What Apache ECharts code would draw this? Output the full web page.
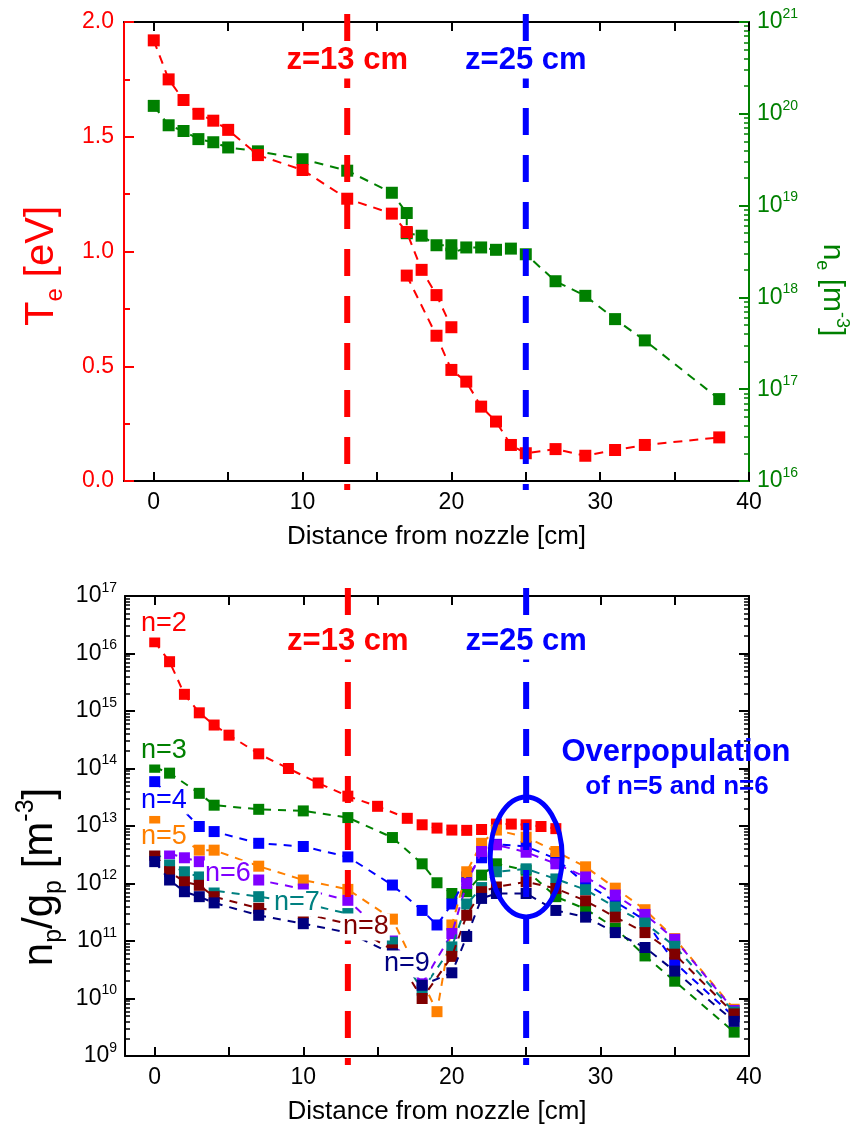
<!DOCTYPE html>
<html>
<head>
<meta charset="utf-8">
<script src="https://cdn.jsdelivr.net/npm/echarts@6/dist/echarts.min.js"></script>
<style>
html, body { margin: 0; padding: 0; background: #fff; }
#box { width: 861px; height: 1134px; }
</style>
</head>
<body>
<div id="box"></div>
<script>
// ---- top panel: Te (left axis) and ne (right axis, log) ----
var teX1 = [0, 1, 2, 3, 4, 5, 7, 10, 13, 16, 17, 18, 19, 20];
var te1 = [1.92, 1.75, 1.66, 1.60, 1.57, 1.53, 1.42, 1.355, 1.23, 1.165, 1.085, 0.92, 0.81, 0.67];
var teX2 = [17, 19, 20, 21, 22, 23, 24, 25, 27, 29, 31, 33, 38];
var te2 = [0.895, 0.633, 0.484, 0.433, 0.324, 0.259, 0.157, 0.121, 0.139, 0.110, 0.135, 0.157, 0.190];
var neX = [0, 1, 2, 3, 4, 5, 7, 10, 13, 16, 17, 17, 18, 19, 20, 20, 21, 22, 23, 24, 25, 27, 29, 31, 33, 38];
var ne = [1.22e20, 7.5e19, 6.5e19, 5.3e19, 4.9e19, 4.3e19, 3.9e19, 3.2e19, 2.4e19, 1.38e19, 8.3e18, 5.0e18, 4.7e18,
    3.7e18, 3.7e18, 3.0e18, 3.5e18, 3.5e18, 3.3e18, 3.4e18, 2.95e18, 1.5e18, 1.04e18, 5.8e17, 3.4e17, 7.8e16];

// ---- bottom panel: np/gp for n=2..9 ----
var levels = ['n=2', 'n=3', 'n=4', 'n=5', 'n=6', 'n=7', 'n=8', 'n=9'];
var n2X = [0, 1, 2, 3, 4, 5, 7, 9, 11, 13, 15, 17, 18, 19, 20, 21, 22, 23, 24, 25, 26, 27];
var n2 = [1.6e16, 7.2e15, 1.95e15, 9.3e14, 5.7e14, 3.8e14, 1.8e14, 1.0e14, 5.6e13, 3.3e13, 2.2e13, 1.36e13, 1.05e13,
    9.2e12, 8.5e12, 8.4e12, 8.7e12, 1.08e13, 1.08e13, 1.05e13, 9.8e12, 9.0e12];
var n3X = [0, 1, 3, 4, 7, 10, 13, 16, 18, 19, 20, 21, 22, 23, 25, 27, 29, 31, 33, 35, 39];
var n3 = [1.05e14, 8.3e13, 3.7e13, 2.3e13, 1.95e13, 1.83e13, 1.4e13, 6.3e12, 2.2e12, 1.03e12, 6.7e11, 7.2e11, 1.4e12,
    2.2e12, 1.7e12, 5.9e11, 3.6e11, 1.67e11, 5.5e10, 2.0e10, 2.6e9];
var n4X = [0, 3, 4, 7, 10, 13, 16, 18, 19, 20, 21, 22, 23, 25, 27, 29, 31, 33, 35, 39];
var n4 = [5.9e13, 9.8e12, 8.0e12, 5.0e12, 4.4e12, 2.9e12, 9.4e11, 3.4e11, 1.9e11, 4.4e11, 1.3e12, 2.8e12, 4.8e12,
    4.4e12, 2.7e12, 1.0e12, 4.8e11, 2.3e11, 4.2e10, 4.8e9];
var n5X = [0, 3, 4, 7, 10, 13, 16, 19, 20, 21, 22, 23, 25, 27, 29, 31, 33, 35, 39];
var n5 = [1.2e13, 3.8e12, 3.8e12, 2.0e12, 1.15e12, 7.9e11, 2.4e11, 5.9e9, 1.9e11, 1.6e12, 5.0e12, 8.5e12, 6.4e12,
    3.6e12, 1.95e12, 8.3e11, 3.5e11, 1.1e11, 6.5e9];
var n6X = [1, 2, 3, 4, 7, 10, 13, 16, 18, 20, 21, 22, 23, 25, 27, 29, 31, 33, 35, 39];
var n6 = [3.3e12, 2.8e12, 2.4e12, 1.8e12, 1.15e12, 8.0e11, 5.1e11, 1.0e11, 1.8e10, 1.35e11, 1.0e12, 3.6e12, 4.7e12,
    3.5e12, 2.2e12, 1.3e12, 6.3e11, 2.9e11, 1.07e11, 6.2e9];
var n7X = [0, 1, 2, 3, 4, 7, 10, 13, 16, 18, 20, 21, 22, 23, 25, 27, 29, 31, 33, 35, 39];
var n7 = [3.6e12, 2.1e12, 1.6e12, 1.3e12, 7.5e11, 5.9e11, 4.5e11, 3.0e11, 9.5e10, 1.4e10, 7.9e10, 4.4e11, 8.5e11,
    1.6e12, 1.8e12, 1.2e12, 7.8e11, 3.9e11, 2.05e11, 8.1e10, 5.8e9];
var n8 = [3.1e12, 1.6e12, 1.07e12, 9.3e11, 5.9e11, 3.7e11, 3.0e11, 2.0e11, 7.0e10, 1.0e10, 5.4e10, 2.8e11, 7.2e11,
    8.7e11, 1.07e12, 8.2e11, 5.0e11, 2.6e11, 1.4e11, 5.9e10, 5.4e9];
var n9 = [2.4e12, 1.15e12, 7.2e11, 5.9e11, 4.6e11, 2.8e11, 2.0e11, 1.4e11, 6.0e10, 1.7e10, 2.8e10, 1.2e11, 5.5e11,
    6.7e11, 6.7e11, 3.4e11, 2.6e11, 1.4e11, 7.7e10, 3.0e10, 4.0e9];

// marked positions and axis ticks
var zLines = [13, 25];
var xLabels = [0, 10, 20, 30, 40];
var xTicks = [0, 5, 10, 15, 20, 25, 30, 35, 40];

var FONT = 'Liberation Sans, Arial, sans-serif';
var RED = '#ff0000', GREEN = '#008000', BLUE = '#0000ff';
var lvColors = ['#ff0000', '#008000', '#0000ff', '#ff8000', '#8000ff', '#008080', '#800000', '#000080'];
var lvX = [n2X, n3X, n4X, n5X, n6X, n7X, n7X, n7X];
var lvY = [n2, n3, n4, n5, n6, n7, n8, n9];

function pairs(xs, ys) {
    return xs.map(function (x, i) { return [x, ys[i]]; });
}

function logLabel(v) {
    return '{b|10}{s|' + Math.round(Math.log10(v)) + '}';
}

function xAxisCfg(gridIndex, pos, showLabel, name) {
    return {
        type: 'value', gridIndex: gridIndex, position: pos, min: -2, max: 40,
        axisLine: { onZero: false, lineStyle: { color: '#000', width: 2 } },
        axisTick: { inside: true, length: 9, customValues: xTicks, lineStyle: { color: '#000', width: 2 } },
        axisLabel: {
            show: showLabel, customValues: xLabels, color: '#000', fontSize: 23, fontFamily: FONT, margin: 10
        },
        splitLine: { show: false },
        name: name, nameLocation: 'middle', nameGap: 43,
        nameTextStyle: { color: '#000', fontSize: 26, fontFamily: FONT }
    };
}

function logAxisCfg(gridIndex, pos, min, max, split, color, showLabel) {
    return {
        type: 'log', logBase: 10, gridIndex: gridIndex, position: pos, min: min, max: max, splitNumber: split,
        axisLine: { show: true, onZero: false, lineStyle: { color: color, width: 2 } },
        axisTick: { inside: true, length: 10, lineStyle: { color: color, width: 2 } },
        minorTick: { show: true, splitNumber: 9, length: 5, lineStyle: { color: color, width: 1.5 } },
        axisLabel: {
            show: showLabel, formatter: logLabel, color: color, margin: 8,
            rich: {
                b: { fontSize: 23, fontFamily: FONT, color: color, lineHeight: 30, verticalAlign: 'middle' },
                s: { fontSize: 14, fontFamily: FONT, color: color, lineHeight: 14, verticalAlign: 'top' }
            }
        },
        splitLine: { show: false }
    };
}

// vertical dashed lines running a bit past the plot frame
function vline(params, api) {
    var cs = params.coordSys;
    var x = api.coord([api.value(0), api.value(1)])[0];
    return {
        type: 'line',
        shape: { x1: x, y1: cs.y - 8, x2: x, y2: cs.y + cs.height + 9 },
        style: { stroke: api.value(2) === 0 ? RED : BLUE, lineWidth: 6, lineDash: [27, 20] }
    };
}

var series = [];
series.push({
    type: 'line', xAxisIndex: 0, yAxisIndex: 1, data: pairs(neX, ne),
    symbol: 'rect', symbolSize: 12, itemStyle: { color: GREEN },
    lineStyle: { color: GREEN, width: 2, type: [9, 7] }, z: 3
});
series.push({
    type: 'line', xAxisIndex: 0, yAxisIndex: 0, data: pairs(teX1, te1),
    symbol: 'rect', symbolSize: 12, itemStyle: { color: RED },
    lineStyle: { color: RED, width: 2, type: [9, 7] }, z: 4
});
series.push({
    type: 'line', xAxisIndex: 0, yAxisIndex: 0, data: pairs(teX2, te2),
    symbol: 'rect', symbolSize: 12, itemStyle: { color: RED },
    lineStyle: { color: RED, width: 2, type: [9, 7] }, z: 4
});
series.push({
    type: 'custom', xAxisIndex: 0, yAxisIndex: 0, renderItem: vline, clip: false, z: 6,
    data: zLines.map(function (z, i) { return [z, 1, i]; })
});
levels.forEach(function (lv, i) {
    series.push({
        name: lv, type: 'line', xAxisIndex: 2, yAxisIndex: 2, data: pairs(lvX[i], lvY[i]),
        symbol: 'rect', symbolSize: 11, itemStyle: { color: lvColors[i] },
        lineStyle: { color: lvColors[i], width: 2, type: [8, 7] }, z: 3 + i * 0.1
    });
});
series.push({
    type: 'custom', xAxisIndex: 2, yAxisIndex: 2, renderItem: vline, clip: false, z: 6,
    data: zLines.map(function (z, i) { return [z, 1e12, i]; })
});

var myChart = echarts.init(document.getElementById('box'));
var option = {
    animation: false,
    backgroundColor: '#fff',
    grid: [
        { left: 124, top: 22, width: 625, height: 459 },
        { left: 125, top: 596, width: 624, height: 460 }
    ],
    xAxis: [
        xAxisCfg(0, 'bottom', true, 'Distance from nozzle [cm]'),
        xAxisCfg(0, 'top', false, ''),
        xAxisCfg(1, 'bottom', true, 'Distance from nozzle [cm]'),
        xAxisCfg(1, 'top', false, '')
    ],
    yAxis: [
        {
            type: 'value', gridIndex: 0, position: 'left', min: 0, max: 2, interval: 0.5,
            axisLine: { show: true, onZero: false, lineStyle: { color: RED, width: 2 } },
            axisTick: { inside: true, length: 10, lineStyle: { color: RED, width: 2 } },
            minorTick: { show: true, splitNumber: 2, length: 6, lineStyle: { color: RED, width: 2 } },
            axisLabel: {
                color: RED, fontSize: 23, fontFamily: FONT, margin: 10,
                formatter: function (v) { return v.toFixed(1); }
            },
            splitLine: { show: false }
        },
        logAxisCfg(0, 'right', 1e16, 1e21, 5, GREEN, true),
        logAxisCfg(1, 'left', 1e9, 1e17, 8, '#000', true),
        logAxisCfg(1, 'right', 1e9, 1e17, 8, '#000', false)
    ],
    series: series
};
myChart.setOption(option);

// annotations
function rotText(x, y, rot, color, size, text) {
    var sub = Math.round(size * 0.6);
    var rich = {
        a: { fill: color, fontSize: size, fontFamily: FONT, lineHeight: Math.round(size * 1.27), verticalAlign: 'middle' },
        d: { fill: color, fontSize: sub, fontFamily: FONT, lineHeight: sub, verticalAlign: 'bottom' },
        u: { fill: color, fontSize: sub, fontFamily: FONT, lineHeight: sub, verticalAlign: 'top' }
    };
    return {
        type: 'text', x: x, y: y, rotation: rot, z: 100,
        style: { text: text, rich: rich, fill: color, align: 'center', verticalAlign: 'middle' }
    };
}
function boldText(x, y, color, text, size, bg) {
    return {
        type: 'text', x: x, y: y, z: 100,
        style: {
            text: text, fill: color, font: 'bold ' + size + 'px ' + FONT, align: 'center', verticalAlign: 'middle',
            backgroundColor: bg ? '#fff' : null, padding: bg ? [3, 4] : 0
        }
    };
}

var zName = ['z=13 cm', 'z=25 cm'];
var graphic = [];
zLines.forEach(function (z, i) {
    var c = i === 0 ? RED : BLUE;
    graphic.push(boldText(myChart.convertToPixel({ xAxisIndex: 0 }, z), 60, c, zName[i], 31, true));
    graphic.push(boldText(myChart.convertToPixel({ xAxisIndex: 2 }, z), 641, c, zName[i], 31, true));
});

// level labels
var lvPos = [[140, 624], [140, 751], [140, 801], [140, 837], [204, 874], [273, 903], [342, 927], [383, 964]];
levels.forEach(function (lv, i) {
    graphic.push({
        type: 'text', x: lvPos[i][0], y: lvPos[i][1], z: 100,
        style: {
            text: lv, fill: lvColors[i], font: '27px ' + FONT, verticalAlign: 'middle',
            backgroundColor: '#fff', padding: [0, 1]
        }
    });
});

graphic.push(boldText(676, 752, BLUE, 'Overpopulation', 31, false));
graphic.push(boldText(677, 787, BLUE, 'of n=5 and n=6', 26, false));

var ec = myChart.convertToPixel({ xAxisIndex: 2, yAxisIndex: 2 }, [25, 2.9e12]);
graphic.push({
    type: 'ellipse', z: 90, shape: { cx: ec[0], cy: ec[1], rx: 36, ry: 60 },
    style: { fill: 'none', stroke: BLUE, lineWidth: 5 }
});

graphic.push(rotText(42, 266, Math.PI / 2, RED, 40, '{a|T}{d|e}{a| [eV]}'));
graphic.push(rotText(832, 290, -Math.PI / 2, GREEN, 30, '{a|n}{d|e}{a| [m}{u|-3}{a|]}'));
graphic.push(rotText(40, 877, Math.PI / 2, '#000', 42, '{a|n}{d|p}{a|/g}{d|p}{a| [m}{u|-3}{a|]}'));

myChart.setOption({ graphic: graphic });
</script>
</body>
</html>
